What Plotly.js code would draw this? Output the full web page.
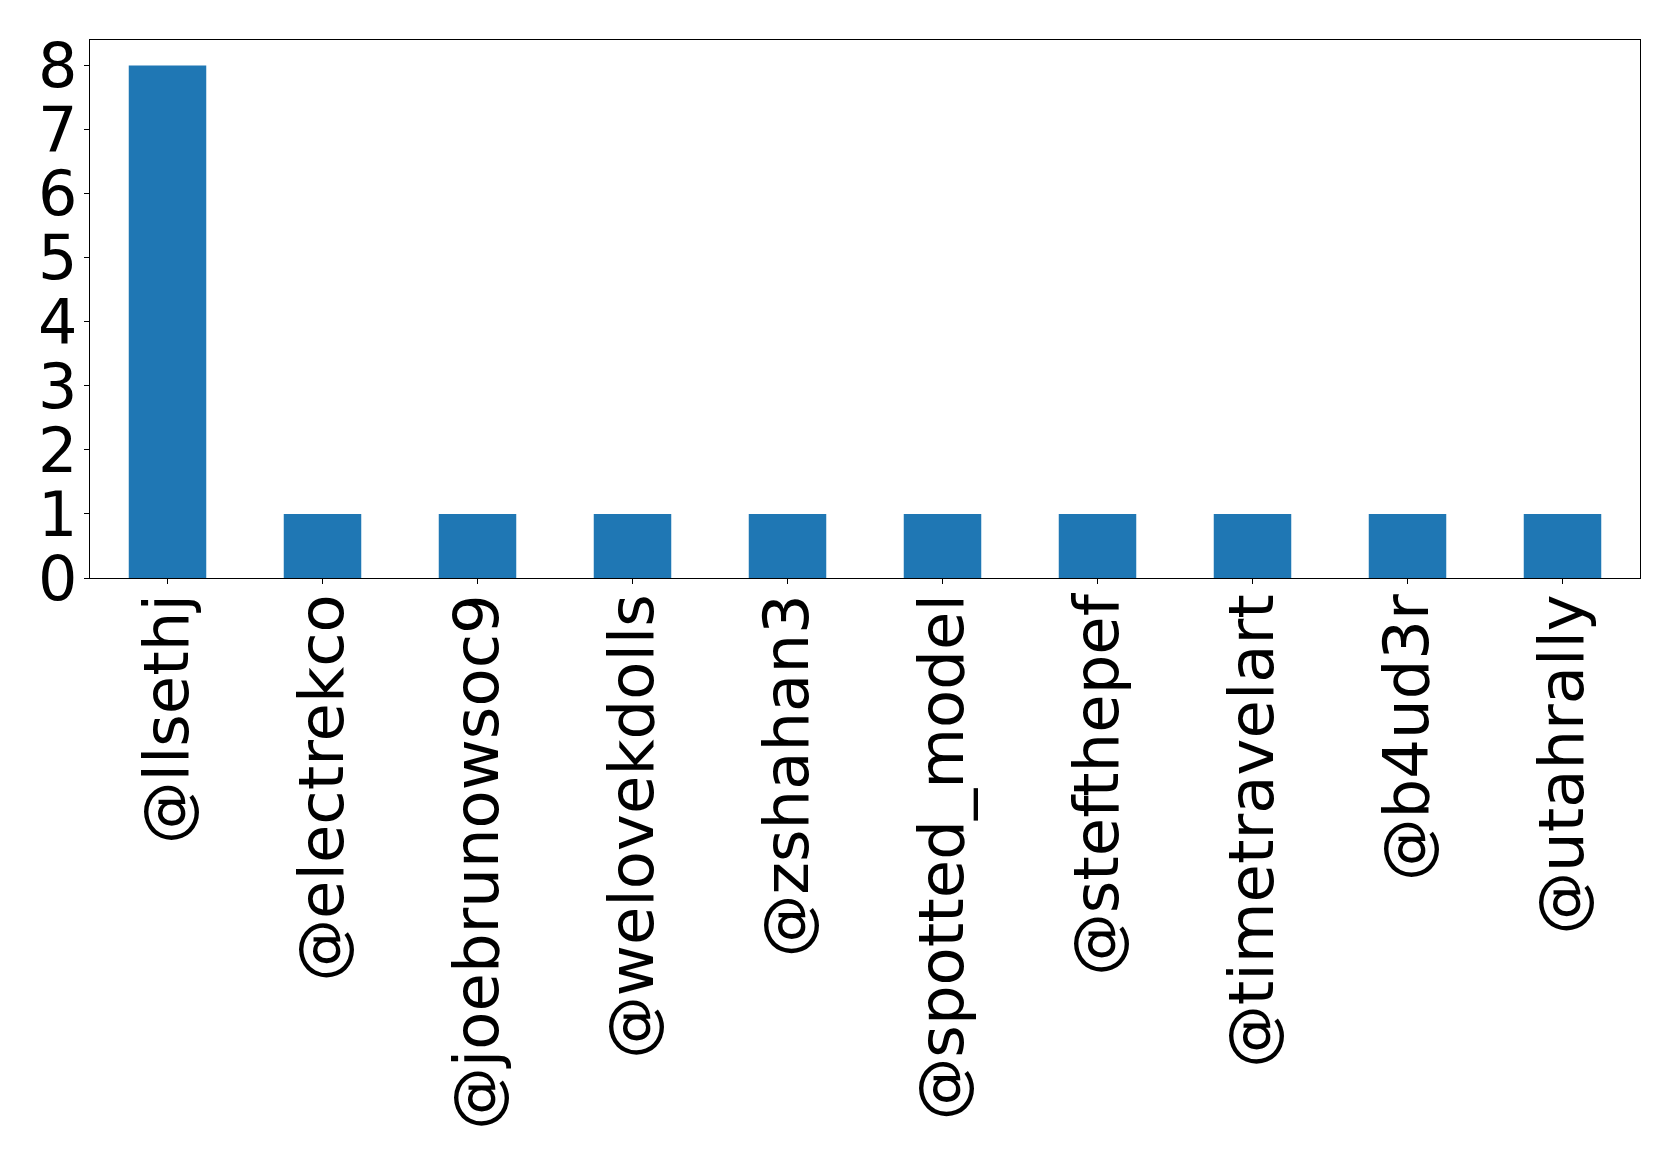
<!DOCTYPE html>
<html>
<head>
<meta charset="utf-8">
<script src="https://cdn.plot.ly/plotly-3.0.1.min.js"></script>
<style>html,body{margin:0;padding:0;background:#fff;}</style>
</head>
<body>
<div id="chart" style="width:1679px;height:1163px;"></div>
<script>
const users = ["@llsethj","@electrekco","@joebrunowsoc9","@welovekdolls","@zshahan3","@spotted_model","@stefthepef","@timetravelart","@b4ud3r","@utahrally"];
const counts = [8,1,1,1,1,1,1,1,1,1];
const yTicks = [0,1,2,3,4,5,6,7,8];

const font = "DejaVu Sans, sans-serif";
Plotly.newPlot("chart", [{
  type: "bar",
  x: users,
  y: counts,
  width: 0.5,
  marker: {color: "#1f77b4", line: {width: 0}},
  hoverinfo: "skip"
}], {
  width: 1679,
  height: 1163,
  margin: {l: 90, r: 39, t: 40, b: 585, pad: 0},
  paper_bgcolor: "#fff",
  plot_bgcolor: "#fff",
  showlegend: false,
  xaxis: {
    type: "category",
    range: [-0.5, 9.5],
    tickangle: -90,
    tickfont: {family: font, size: 62.5, color: "#000"},
    ticks: "outside", ticklen: 5, tickwidth: 1, tickcolor: "#000",
    ticklabelstandoff: -15,
    showline: true, linecolor: "#000", linewidth: 1.2, mirror: true,
    showgrid: false, zeroline: false, automargin: false
  },
  yaxis: {
    range: [0, 8.4],
    tickvals: yTicks,
    ticktext: yTicks.map(String),
    tickfont: {family: font, size: 62, color: "#000"},
    ticks: "outside", ticklen: 5, tickwidth: 1, tickcolor: "#000",
    ticklabelstandoff: -6,
    showline: true, linecolor: "#000", linewidth: 1.2, mirror: true,
    showgrid: false, zeroline: false, automargin: false
  }
}, {staticPlot: true});
</script>
</body>
</html>
